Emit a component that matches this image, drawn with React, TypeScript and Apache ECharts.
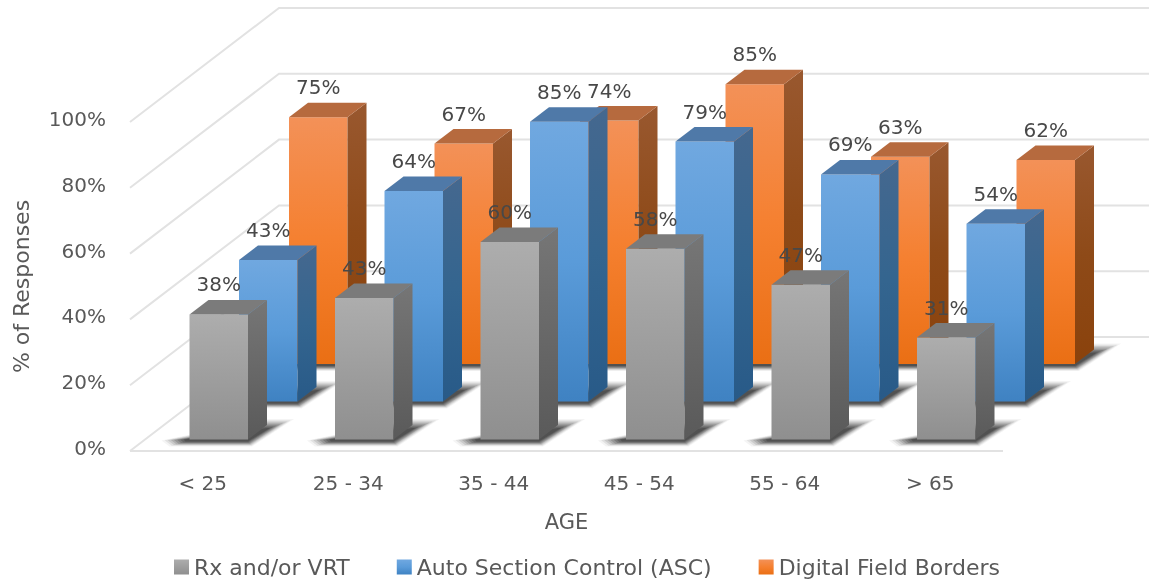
import React, { useEffect, useRef } from "react";
import * as echarts from "echarts";

const categories = ["< 25", "25 - 34", "35 - 44", "45 - 54", "55 - 64", "> 65"];
const rxValues = [38, 43, 60, 58, 47, 31];
const ascValues = [43, 64, 85, 79, 69, 54];
const dfbValues = [75, 67, 74, 85, 63, 62];
const gridLevels = [0, 20, 40, 60, 80, 100];
const seriesNames = ["Rx and/or VRT", "Auto Section Control (ASC)", "Digital Field Borders"];

const FONT = "'DejaVu Sans', sans-serif";
const TEXT = "#595959";
const WALL_DX = 149;
const WALL_DY = 114;
const BAR_DX = 19;
const BAR_DY = 14.5;
const BAR_W = 58.5;
const SHADOW_STEPS = 8;

const grad = (stops: string[]) => ({
  type: "linear", x: 0, y: 0, x2: 0, y2: 1, global: false,
  colorStops: stops.map((color, i) => ({ offset: i / (stops.length - 1), color })),
});

const palettes = [
  { front: ["#ADADAD", "#8F8F8F"], side: ["#767676", "#5A5A5A"], top: "#7B7B7B", xOff: -13.25, yOff: 11.5 },
  { front: ["#70A8E0", "#5A9BD9", "#3F82C2"], side: ["#45688F", "#34658F", "#285A88"], top: "#4F79A8", xOff: 36.25, yOff: 49.5 },
  { front: ["#F39158", "#F58030", "#EA6F14"], side: ["#99582F", "#8E4A18", "#8A420C"], top: "#B66A3E", xOff: 86.25, yOff: 87 },
];

const barRender = (s: number) => (_p: any, api: any) => {
  const pal = palettes[s];
  const c = api.value(0);
  const v = api.value(1);
  const [cx, y0] = api.coord([c, 0]);
  const [, yv] = api.coord([c, v]);
  const x = cx + pal.xOff;
  const base = y0 - pal.yOff;
  const top = yv - pal.yOff;
  const r = x + BAR_W;
  const outer = [[x - 28, base + 1], [x - 20, base + 7], [r + 4, base + 7], [r + 46, base - BAR_DY - 6], [r + BAR_DX, base - BAR_DY - 6]];
  const inner = [[x - 6, base], [x - 4, base + 2], [r, base + 2], [r + 22, base - BAR_DY + 3], [r + BAR_DX, base - BAR_DY + 3]];
  const shadows: any[] = [];
  for (let i = 0; i < SHADOW_STEPS; i++) {
    const t = i / (SHADOW_STEPS - 1);
    shadows.push({
      type: "polygon",
      shape: { points: outer.map((p, k) => [p[0] + (inner[k][0] - p[0]) * t, p[1] + (inner[k][1] - p[1]) * t]) },
      style: { fill: `rgba(30,30,30,${(0.05 + 0.22 * t).toFixed(3)})` },
    });
  }
  return {
    type: "group",
    children: [
      ...shadows,
      { type: "rect", shape: { x, y: top, width: BAR_W, height: base - top }, style: { fill: grad(pal.front) } },
      {
        type: "polygon",
        shape: { points: [[r, top], [r + BAR_DX, top - BAR_DY], [r + BAR_DX, base - BAR_DY], [r, base]] },
        style: { fill: grad(pal.side) },
      },
      {
        type: "polygon",
        shape: { points: [[x, top], [x + BAR_DX, top - BAR_DY], [r + BAR_DX, top - BAR_DY], [r, top]] },
        style: { fill: pal.top },
      },
    ],
  };
};

const wallRender = (p: any, api: any) => {
  const v = api.value(1);
  const [, y] = api.coord([0, v]);
  const L = p.coordSys.x;
  const R = L + p.coordSys.width;
  const lineStyle = { stroke: "#E2E2E2", lineWidth: 2, fill: "none" };
  const children: any[] = [
    { type: "polyline", shape: { points: [[L, y], [L + WALL_DX, y - WALL_DY], [R + WALL_DX, y - WALL_DY]] }, style: lineStyle },
  ];
  if (v === 0) children.push({ type: "line", shape: { x1: L, y1: y, x2: R, y2: y }, style: lineStyle });
  return { type: "group", children };
};

const labelRender = (_p: any, api: any) => {
  const s = api.value(2);
  const pal = palettes[s];
  const [cx] = api.coord([api.value(0), 0]);
  const [, yv] = api.coord([api.value(0), api.value(1)]);
  return {
    type: "text",
    x: cx + pal.xOff + BAR_W / 2,
    y: yv - pal.yOff - 30,
    style: {
      text: api.value(1) + "%",
      align: "center", verticalAlign: "middle", textAlign: "center", textVerticalAlign: "middle",
      fontFamily: FONT, fontSize: 20, fill: "#484848",
    },
  };
};

export default function App() {
  const ref = useRef<HTMLDivElement>(null);
  useEffect(() => {
    const chart = echarts.init(ref.current!, undefined, { renderer: "svg" });
    const all = [rxValues, ascValues, dfbValues];
    const labelRows: number[][] = [];
    all.forEach((vals, s) => vals.forEach((v, c) => labelRows.push([c, v, s])));
    chart.setOption({
      animation: false,
      backgroundColor: "#ffffff",
      grid: { left: 130, right: 146, top: 122, bottom: 133, outerBoundsMode: "none" },
      legend: {
        data: seriesNames,
        left: 174,
        top: 556,
        padding: 0,
        icon: "rect",
        itemWidth: 15,
        itemHeight: 15,
        itemGap: 47,
        textStyle: { fontFamily: FONT, fontSize: 22, color: TEXT },
      },
      xAxis: {
        type: "category",
        data: categories,
        name: "AGE",
        nameLocation: "middle",
        nameGap: 60,
        nameTextStyle: { fontFamily: FONT, fontSize: 21, color: TEXT },
        axisLine: { show: false },
        axisTick: { show: false },
        axisLabel: { fontFamily: FONT, fontSize: 20, color: TEXT, margin: 22 },
      },
      yAxis: {
        type: "value",
        min: 0,
        max: 100,
        interval: 20,
        name: "% of Responses",
        nameLocation: "middle",
        nameGap: 98,
        nameTextStyle: { fontFamily: FONT, fontSize: 22, color: TEXT },
        axisLine: { show: false },
        axisTick: { show: false },
        splitLine: { show: false },
        axisLabel: { fontFamily: FONT, fontSize: 20, color: TEXT, margin: 24, formatter: "{value}%", verticalAlign: "bottom", lineHeight: 6 },
      },
      series: [
        {
          type: "custom", name: "walls", z: 1, silent: true,
          renderItem: wallRender,
          data: gridLevels.map((v) => [0, v]),
          encode: { x: 0, y: 1 },
        },
        ...[2, 1, 0].map((s) => ({
          type: "custom",
          name: seriesNames[s],
          z: 5 - s + 1,
          renderItem: barRender(s),
          itemStyle: { color: new echarts.graphic.LinearGradient(0, 0, 0, 1, grad(palettes[s].front).colorStops) },
          data: all[s].map((v, c) => [c, v]),
          encode: { x: 0, y: 1 },
        })),
        {
          type: "custom", name: "labels", z: 10, silent: true,
          renderItem: labelRender,
          data: labelRows,
          encode: { x: 0, y: 1 },
        },
      ],
    });
    return () => chart.dispose();
  }, []);
  return <div ref={ref} style={{ position: "absolute", left: 0, top: 0, width: 1149, height: 584, filter: "blur(0.6px)" }} />;
}
